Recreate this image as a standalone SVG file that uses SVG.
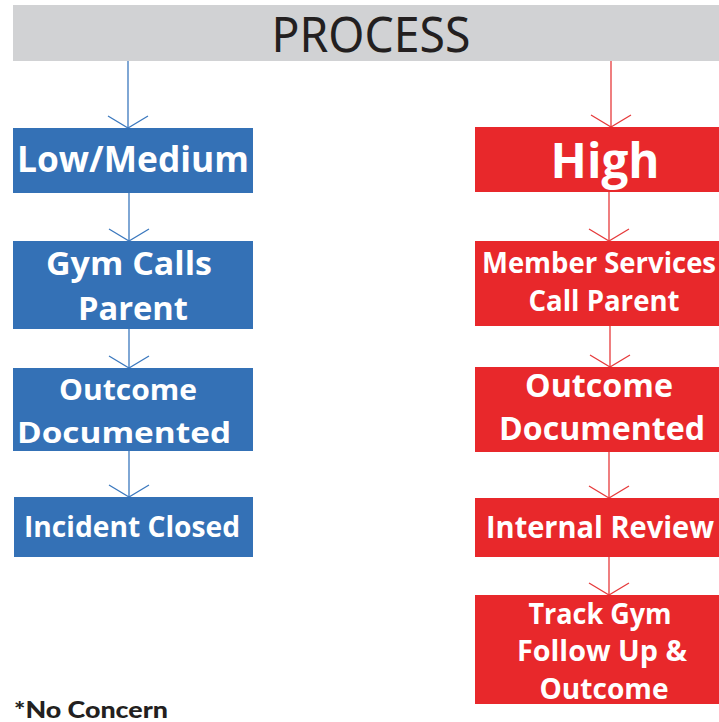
<svg xmlns="http://www.w3.org/2000/svg" width="719" height="722" viewBox="0 0 719 722">
<defs>
<style>
.blue{fill:#3471b6}
.red{fill:#e8282b}
.t{font-family:"Open Sans","Liberation Sans",sans-serif;font-weight:700;fill:#fff;text-anchor:middle}
.cb{stroke:#3b78be;stroke-width:1.3;fill:none}
.cr{stroke:#e63a3b;stroke-width:1.3;fill:none}
</style>
<marker id="ab" markerUnits="userSpaceOnUse" viewBox="-14 -22 16 44" refX="0" refY="0" markerWidth="16" markerHeight="44" orient="auto">
<path d="M-12,-20 L0,0 L-12,20" fill="none" stroke="#3b78be" stroke-width="1.3"/>
</marker>
<marker id="ar" markerUnits="userSpaceOnUse" viewBox="-14 -22 16 44" refX="0" refY="0" markerWidth="16" markerHeight="44" orient="auto">
<path d="M-12,-20 L0,0 L-12,20" fill="none" stroke="#e63a3b" stroke-width="1.3"/>
</marker>
</defs>
<rect width="719" height="722" fill="#fff"/>
<g id="header">
<rect x="13" y="5" width="706" height="56" fill="#d1d2d4"/>
<text x="371" y="52" font-family="'Noto Sans','DejaVu Sans',sans-serif" font-weight="400" font-size="49" fill="#231f20" text-anchor="middle" textLength="199" lengthAdjust="spacingAndGlyphs">PROCESS</text>
</g>
<g id="connectors">
<line class="cb" x1="128" y1="61" x2="128" y2="128" marker-end="url(#ab)"/>
<line class="cb" x1="129" y1="193" x2="129" y2="241" marker-end="url(#ab)"/>
<line class="cb" x1="129" y1="329" x2="129" y2="368" marker-end="url(#ab)"/>
<line class="cb" x1="129" y1="451" x2="129" y2="497" marker-end="url(#ab)"/>
<line class="cr" x1="611" y1="61" x2="611" y2="127" marker-end="url(#ar)"/>
<line class="cr" x1="609" y1="192" x2="609" y2="241" marker-end="url(#ar)"/>
<line class="cr" x1="610" y1="326" x2="610" y2="367" marker-end="url(#ar)"/>
<line class="cr" x1="609" y1="452" x2="609" y2="498" marker-end="url(#ar)"/>
<line class="cr" x1="609" y1="557" x2="609" y2="595" marker-end="url(#ar)"/>
</g>
<g id="low-medium">
<rect class="blue" x="13" y="128" width="240" height="65"/>
<text class="t" x="133" y="172" font-size="36" textLength="232" lengthAdjust="spacingAndGlyphs">Low/Medium</text>
</g>
<g id="gym-calls-parent">
<rect class="blue" x="13" y="241" width="240" height="88"/>
<text class="t" x="129" y="275" font-size="32" textLength="166" lengthAdjust="spacingAndGlyphs">Gym Calls</text>
<text class="t" x="133" y="320" font-size="32" textLength="110" lengthAdjust="spacingAndGlyphs">Parent</text>
</g>
<g id="outcome-documented-blue">
<rect class="blue" x="13" y="368" width="240" height="83"/>
<text class="t" x="128" y="400" font-size="29" textLength="138" lengthAdjust="spacingAndGlyphs">Outcome</text>
<text class="t" x="124" y="443" font-size="29" textLength="214" lengthAdjust="spacingAndGlyphs">Documented</text>
</g>
<g id="incident-closed">
<rect class="blue" x="14" y="497" width="239" height="60"/>
<text class="t" x="132" y="537" font-size="28" textLength="216" lengthAdjust="spacingAndGlyphs">Incident Closed</text>
</g>
<g id="high">
<rect class="red" x="475" y="127" width="244" height="65"/>
<text class="t" x="605" y="178" font-size="48" textLength="109" lengthAdjust="spacingAndGlyphs">High</text>
</g>
<g id="member-services-call-parent">
<rect class="red" x="475" y="241" width="244" height="85"/>
<text class="t" x="599" y="273" font-size="28" textLength="234" lengthAdjust="spacingAndGlyphs">Member Services</text>
<text class="t" x="604" y="311" font-size="28" textLength="151" lengthAdjust="spacingAndGlyphs">Call Parent</text>
</g>
<g id="outcome-documented-red">
<rect class="red" x="475" y="367" width="244" height="85"/>
<text class="t" x="599" y="397" font-size="32" textLength="148" lengthAdjust="spacingAndGlyphs">Outcome</text>
<text class="t" x="602" y="440" font-size="32" textLength="206" lengthAdjust="spacingAndGlyphs">Documented</text>
</g>
<g id="internal-review">
<rect class="red" x="475" y="498" width="244" height="59"/>
<text class="t" x="600" y="538" font-size="30" textLength="228" lengthAdjust="spacingAndGlyphs">Internal Review</text>
</g>
<g id="track-gym">
<rect class="red" x="475" y="595" width="244" height="109"/>
<text class="t" x="600" y="624" font-size="28" textLength="143" lengthAdjust="spacingAndGlyphs">Track Gym</text>
<text class="t" x="602" y="661" font-size="28" textLength="170" lengthAdjust="spacingAndGlyphs">Follow Up &amp;</text>
<text class="t" x="604" y="699" font-size="28" textLength="129" lengthAdjust="spacingAndGlyphs">Outcome</text>
</g>
<text x="14" y="718" font-family="Lato,'Liberation Sans',sans-serif" font-weight="900" font-size="22" fill="#231f20" textLength="154" lengthAdjust="spacingAndGlyphs">*No Concern</text>
</svg>
